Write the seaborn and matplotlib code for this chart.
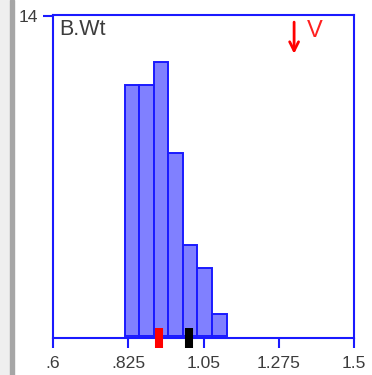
import numpy as np
import pandas as pd
import matplotlib
matplotlib.use('Agg')
import matplotlib.pyplot as plt
import seaborn as sns

# ---- data ----
bin_edges = [0.815, 0.858, 0.902, 0.945, 0.989, 1.032, 1.076, 1.119]
counts = [11, 11, 12, 8, 4, 3, 1]
x_ticks = [0.6, 0.825, 1.05, 1.275, 1.5]
x_tick_labels = ['.6', '.825', '1.05', '1.275', '1.5']
y_ticks = [14]
y_tick_labels = ['14']
red_mark = 0.917     # red marker on the axis
black_mark = 1.007   # black marker on the axis
var_name = 'B.Wt'

sns.set_style('white')
plt.rcParams['font.family'] = ['Liberation Sans', 'DejaVu Sans']

BLUE = '#1a1aff'
FILL = '#8080ff'
TXT = '#3c3c3c'

fig = plt.figure(figsize=(3.72, 3.75), dpi=100)
ax = fig.add_axes([53 / 372, 1 - 338 / 375, 301 / 372, 323.5 / 375])

centers = [(a + b) / 2 for a, b in zip(bin_edges[:-1], bin_edges[1:])]
df = pd.DataFrame({'x': centers, 'n': counts})
sns.histplot(data=df, x='x', weights='n', bins=bin_edges, ax=ax,
             color=FILL, edgecolor=BLUE, linewidth=1.4, alpha=1)

ax.set_xlim(0.6, 1.5)
ax.set_ylim(-0.07, 14.07)
ax.set_xticks(x_ticks)
ax.set_xticklabels(x_tick_labels)
ax.set_yticks(y_ticks)
ax.set_yticklabels(y_tick_labels)
ax.set_xlabel('')
ax.set_ylabel('')
ax.tick_params(axis='both', direction='out', length=7, width=1.5, color=BLUE,
               labelsize=12.6, labelcolor=TXT, bottom=True, left=True)
ax.tick_params(axis='x', pad=6)
ax.tick_params(axis='y', pad=4)
for s in ax.spines.values():
    s.set_color(BLUE)
    s.set_linewidth(1.5)
    s.set_visible(True)

# markers sitting on the x axis
tr = ax.get_xaxis_transform()
ax.plot([red_mark], [0], transform=tr, marker='|', ms=14.4, mew=5.8,
        color='#ff0000', clip_on=False, zorder=5)
ax.plot([black_mark], [0], transform=tr, marker='|', ms=14.4, mew=5.8,
        color='#000000', clip_on=False, zorder=5)

ax.text(0.02, 0.985, var_name, transform=ax.transAxes, ha='left', va='top',
        fontsize=15.5, color=TXT)
ax.annotate('', xy=(0.801, 0.87), xytext=(0.801, 0.985), xycoords='axes fraction',
            arrowprops=dict(arrowstyle='->', color='#ff0000', lw=2,
                            mutation_scale=16))
ax.text(0.845, 0.982, 'V', transform=ax.transAxes, ha='left', va='top',
        fontsize=17, color='#ff2020')

# window frame strip on the left
fig.patches.append(plt.Rectangle((0, 0), 10 / 372, 1, transform=fig.transFigure,
                                 color='#efefef', zorder=0))
fig.patches.append(plt.Rectangle((10 / 372, 0), 4 / 372, 1, transform=fig.transFigure,
                                 color='#a6a6a6', zorder=0))

fig.savefig('out.png', dpi=100)
